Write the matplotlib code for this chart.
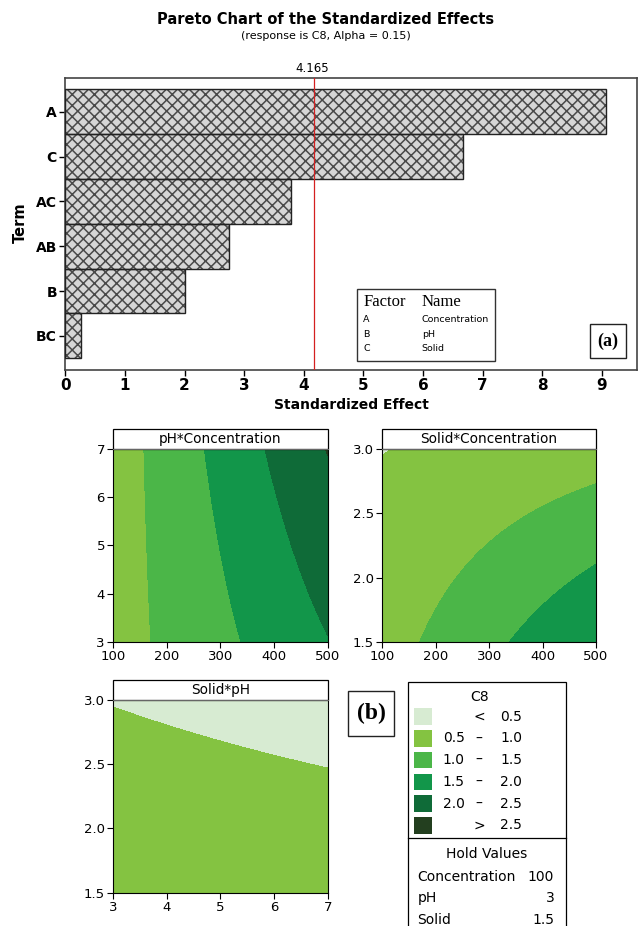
import numpy as np
import matplotlib
matplotlib.use('Agg')
import matplotlib.pyplot as plt
from matplotlib.patches import Rectangle

# ---- pareto chart data ----
terms = ['A', 'C', 'AC', 'AB', 'B', 'BC']
effects = [9.07, 6.67, 3.79, 2.75, 2.0, 0.27]
t_crit = 4.165

factor_letters = ['A', 'B', 'C']
factor_names = ['Concentration', 'pH', 'Solid']

# ---- fitted model for C8 in coded units (-1..1) ----
coef_names = ['const', 'A', 'B', 'C', 'AB', 'AC', 'BC']
coef_vals = [1.115, 0.517, 0.103, -0.395, 0.145, -0.224, -0.020]

conc_range = [100, 500]
ph_range = [3, 7]
solid_range = [1.5, 3.0]
hold_values = [100, 3, 1.5]

c8_levels = [0.5, 1.0, 1.5, 2.0, 2.5]
c8_colors = ['#d7ebd2', '#84c341', '#4bb648', '#12964a', '#0f6b38', '#233f1f']
c8_rows = [('', '<', '0.5'), ('0.5', '\u2013', '1.0'), ('1.0', '\u2013', '1.5'),
           ('1.5', '\u2013', '2.0'), ('2.0', '\u2013', '2.5'), ('', '>', '2.5')]

W, H = 640, 926

plt.rcParams['hatch.linewidth'] = 1.1


def rect(left, top, right, bottom):
    # pixel box -> figure fraction
    return [left / W, 1 - bottom / H, (right - left) / W, (bottom - top) / H]


def coded(x, rng):
    mid = (rng[0] + rng[1]) / 2.0
    half = (rng[1] - rng[0]) / 2.0
    return (x - mid) / half


def c8_model(conc, ph, solid):
    k = dict(zip(coef_names, coef_vals))
    a = coded(conc, conc_range)
    b = coded(ph, ph_range)
    c = coded(solid, solid_range)
    return (k['const'] + k['A'] * a + k['B'] * b + k['C'] * c
            + k['AB'] * a * b + k['AC'] * a * c + k['BC'] * b * c)


fig = plt.figure(figsize=(W / 100, H / 100), dpi=100)

# ---------------- (a) pareto ----------------
ax = fig.add_axes(rect(65.3, 77.7, 637.3, 369.5))
pos = np.arange(len(terms))
ax.barh(pos, effects, height=1.0, color='#d6d6d6', edgecolor='#4a4a4a',
        hatch='xxx', linewidth=0, zorder=2)
ax.barh(pos, effects, height=1.0, color='none', edgecolor='#222222',
        linewidth=1.0, zorder=3)
ax.axvline(t_crit, color='#d42020', linewidth=0.9, zorder=4)
ax.set_xlim(0, 9.597)
ax.set_ylim(5.749, -0.758)
ax.set_yticks(pos)
ax.set_yticklabels(terms, fontsize=10, fontweight='bold')
ax.set_xticks(range(10))
ax.set_xticklabels([str(i) for i in range(10)], fontsize=11, fontweight='bold')
ax.tick_params(direction='out', length=4, width=1, pad=2)
for sp in ax.spines.values():
    sp.set_color('#444444')
    sp.set_linewidth(1.2)

ov = fig.add_axes([0, 0, 1, 1])
ov.set_xlim(0, W)
ov.set_ylim(H, 0)
ov.axis('off')
ov.patch.set_visible(False)

ov.text(326, 20, 'Pareto Chart of the Standardized Effects', ha='center', va='center',
        fontsize=10.5, fontweight='heavy')
ov.text(326, 36, '(response is C8, Alpha = 0.15)', ha='center', va='center', fontsize=8)
ov.text(312, 68, '4.165', ha='center', va='center', fontsize=8.5)
ov.text(20, 223, 'Term', ha='center', va='center', rotation=90, fontsize=10.5, fontweight='bold')
ov.text(351, 405, 'Standardized Effect', ha='center', va='center', fontsize=10, fontweight='bold')

# factor table
ov.add_patch(Rectangle((356.7, 289), 138.6, 72, facecolor='white', edgecolor='#333333', lw=1))
ov.text(363.3, 302.5, 'Factor', fontsize=12, family='Liberation Serif', va='center')
ov.text(421.7, 302.5, 'Name', fontsize=12, family='Liberation Serif', va='center')
for i, (let, nm) in enumerate(zip(factor_letters, factor_names)):
    yy = 320 + 14.2 * i
    ov.text(363.3, yy, let, fontsize=6.8, va='center')
    ov.text(421.7, yy, nm, fontsize=6.8, va='center')

ov.add_patch(Rectangle((590.3, 324), 35.4, 33.7, facecolor='white', edgecolor='#222222', lw=1))
ov.text(608, 341, '(a)', ha='center', va='center', fontsize=13, fontweight='bold',
        family='Liberation Serif')

# ---------------- (b) contour plots ----------------
panels = [
    ('pH*Concentration', rect(113.3, 449, 327.7, 641.7), 'conc', 'ph',
     [100, 200, 300, 400, 500], [3, 4, 5, 6, 7], '%d'),
    ('Solid*Concentration', rect(382.3, 449.3, 596, 641.7), 'conc', 'solid',
     [100, 200, 300, 400, 500], [1.5, 2.0, 2.5, 3.0], '%.1f'),
    ('Solid*pH', rect(113.3, 700, 327.7, 892.5), 'ph', 'solid',
     [3, 4, 5, 6, 7], [1.5, 2.0, 2.5, 3.0], '%.1f'),
]
ranges = {'conc': conc_range, 'ph': ph_range, 'solid': solid_range}
holds = dict(zip(['conc', 'ph', 'solid'], hold_values))
fill_levels = [-100] + c8_levels + [100]

for title, r, xv, yv, xt, yt, yfmt in panels:
    cax = fig.add_axes(r)
    xs = np.linspace(ranges[xv][0], ranges[xv][1], 241)
    ys = np.linspace(ranges[yv][0], ranges[yv][1], 241)
    X, Y = np.meshgrid(xs, ys)
    args = {k: np.full_like(X, v) for k, v in holds.items()}
    args[xv] = X
    args[yv] = Y
    Z = c8_model(args['conc'], args['ph'], args['solid'])
    cax.contourf(X, Y, Z, levels=fill_levels, colors=c8_colors)
    cax.set_xlim(ranges[xv])
    cax.set_ylim(ranges[yv])
    cax.set_xticks(xt)
    cax.set_yticks(yt)
    cax.set_yticklabels([yfmt % v for v in yt])
    cax.tick_params(direction='out', length=4, width=0.8, labelsize=9.5, pad=2)
    for sp in cax.spines.values():
        sp.set_linewidth(0.8)
    cax.spines['top'].set_color('#666666')
    hh = 20.0 / (r[3] * H)
    cax.add_patch(Rectangle((0, 1), 1, hh, transform=cax.transAxes, clip_on=False,
                            facecolor='white', edgecolor='black', lw=0.9))
    cax.text(0.5, 1 + hh / 2, title, transform=cax.transAxes, ha='center', va='center',
             fontsize=9.8)

ov.add_patch(Rectangle((348.3, 691), 46, 45, facecolor='white', edgecolor='#222222', lw=1))
ov.text(371.3, 713.5, '(b)', ha='center', va='center', fontsize=17, fontweight='bold',
        family='Liberation Serif')

# legend for the contour colours
ov.add_patch(Rectangle((408.3, 681.7), 157.4, 260, facecolor='white', edgecolor='black', lw=0.9))
ov.plot([408.3, 565.7], [838.3, 838.3], color='black', lw=0.9)
ov.text(480, 697, 'C8', ha='center', va='center', fontsize=10)
for i, (lo, sym, hi) in enumerate(c8_rows):
    yy = 716.7 + 21.7 * i
    ov.add_patch(Rectangle((414, yy - 8.3), 18.3, 16.6, facecolor=c8_colors[i], edgecolor='none'))
    ov.text(464.5, yy, lo, ha='right', va='center', fontsize=10)
    ov.text(479, yy, sym, ha='center', va='center', fontsize=10)
    ov.text(500, yy, hi, ha='left', va='center', fontsize=10)

ov.text(486.7, 854.3, 'Hold Values', ha='center', va='center', fontsize=10)
for i, (nm, v) in enumerate(zip(factor_names, hold_values)):
    yy = 877 + 21.3 * i
    ov.text(417.3, yy, nm, ha='left', va='center', fontsize=10)
    ov.text(554.3, yy, str(v), ha='right', va='center', fontsize=10)

fig.savefig('out.png', dpi=100)
